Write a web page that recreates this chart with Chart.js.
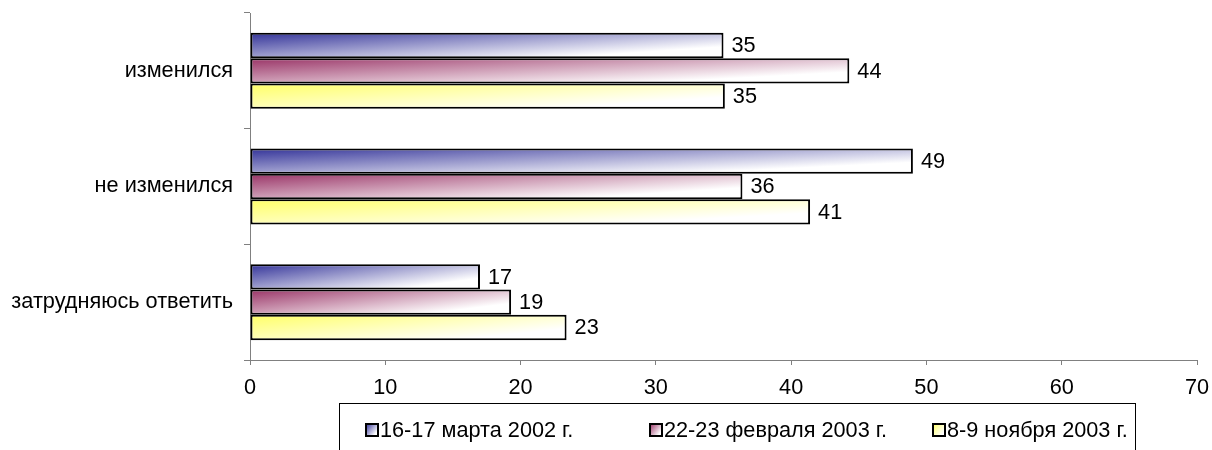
<!DOCTYPE html>
<html>
<head>
<meta charset="utf-8">
<script src="https://cdn.jsdelivr.net/npm/chart.js@4/dist/chart.umd.min.js"></script>
<style>
  html, body { margin: 0; padding: 0; background: #fff; }
  #wrap { width: 1212px; height: 450px; }
</style>
</head>
<body>
<div id="wrap"><canvas id="c" width="1212" height="450"></canvas></div>
<script>
// ---- data ----
const categories = ['изменился', 'не изменился', 'затрудняюсь ответить'];
const seriesNames = ['16-17 марта 2002 г.', '22-23 февраля 2003 г.', '8-9 ноября 2003 г.'];
const march2002 = [35.0, 49.0, 17.0];
const feb2003 = [44.3, 36.4, 19.3];
const nov2003 = [35.1, 41.4, 23.4];
const xMin = 0;
const xMax = 70;
const xStep = 10;

// ---- styles ----
const seriesColors = ['#333399', '#993366', '#ffff66'];
const FONT = '"Liberation Sans", Arial, sans-serif';
const FSIZE = 21.7;
const AXIS_COLOR = '#808080';

function makeGrad(ctx, left, top, W, H, color) {
  const a = 0.7, b = 0.55;
  const nx = a / Math.max(W, 1), ny = b / Math.max(H, 1);
  const n2 = nx * nx + ny * ny;
  const g = ctx.createLinearGradient(left, top, left + nx / n2, top + ny / n2);
  g.addColorStop(0, color);
  g.addColorStop(1, '#ffffff');
  return g;
}

const gradientPlugin = {
  id: 'gradientPlugin',
  beforeDatasetsDraw(chart) {
    const ctx = chart.ctx;
    chart.data.datasets.forEach((ds, i) => {
      const meta = chart.getDatasetMeta(i);
      meta.data.forEach(el => {
        const p = el.getProps(['x', 'y', 'base', 'height'], true);
        const left = Math.min(p.x, p.base);
        const W = Math.abs(p.x - p.base);
        const top = p.y - p.height / 2;
        el.options.backgroundColor = makeGrad(ctx, left, top, W, p.height, seriesColors[i]);
      });
    });
  }
};

const labelPlugin = {
  id: 'labelPlugin',
  afterDatasetsDraw(chart) {
    const ctx = chart.ctx;
    ctx.save();
    ctx.font = FSIZE + 'px ' + FONT;
    ctx.fillStyle = '#000';
    ctx.textAlign = 'left';
    ctx.textBaseline = 'middle';
    chart.data.datasets.forEach((ds, i) => {
      const meta = chart.getDatasetMeta(i);
      meta.data.forEach((el, j) => {
        const p = el.getProps(['x', 'y'], true);
        ctx.fillText(String(Math.round(ds.data[j])), p.x + 8, p.y + 1);
      });
    });
    ctx.restore();
  }
};

const legendPlugin = {
  id: 'legendPlugin',
  afterDraw(chart) {
    const ctx = chart.ctx;
    ctx.save();
    ctx.strokeStyle = '#000';
    ctx.lineWidth = 1;
    ctx.strokeRect(339.5, 403.5, 796, 100);
    const xs = [366, 650, 933];
    ctx.font = FSIZE + 'px ' + FONT;
    ctx.textBaseline = 'middle';
    ctx.textAlign = 'left';
    chart.data.datasets.forEach((ds, i) => {
      const x = xs[i], y = 424;
      ctx.fillStyle = makeGrad(ctx, x, y, 12, 12, seriesColors[i]);
      ctx.fillRect(x, y, 12, 12);
      ctx.strokeStyle = '#000';
      ctx.lineWidth = 2;
      ctx.strokeRect(x, y, 12, 12);
      ctx.fillStyle = '#000';
      ctx.fillText(ds.label, x + 14, y + 7);
    });
    ctx.restore();
  }
};

new Chart(document.getElementById('c'), {
  type: 'bar',
  data: {
    labels: categories,
    datasets: [
      { label: seriesNames[0], data: march2002 },
      { label: seriesNames[1], data: feb2003 },
      { label: seriesNames[2], data: nov2003 }
    ].map((d, i) => Object.assign(d, {
      backgroundColor: (c) => seriesColors[c.datasetIndex],
      borderColor: '#000',
      borderWidth: 2,
      borderSkipped: false,
      categoryPercentage: 0.657,
      barPercentage: 1.0
    }))
  },
  options: {
    indexAxis: 'y',
    responsive: false,
    animation: false,
    layout: { padding: { left: 0, right: 15, top: 13, bottom: 45 } },
    plugins: {
      legend: { display: false },
      tooltip: { enabled: false }
    },
    scales: {
      x: {
        min: xMin, max: xMax,
        afterFit(scale) { scale.height = 45; scale.paddingLeft = 0; scale.paddingRight = 0; },
        ticks: { stepSize: xStep, color: '#000', font: { family: FONT, size: FSIZE }, padding: 10, maxRotation: 0 },
        grid: { drawOnChartArea: false, tickLength: 5, color: AXIS_COLOR },
        border: { color: AXIS_COLOR, width: 1 }
      },
      y: {
        afterFit(scale) { scale.width = 250; scale.paddingTop = 0; scale.paddingBottom = 0; },
        ticks: { color: '#000', font: { family: FONT, size: FSIZE }, padding: 11 },
        grid: { drawOnChartArea: false, tickLength: 6, color: AXIS_COLOR, offset: true },
        border: { color: AXIS_COLOR, width: 1 }
      }
    }
  },
  plugins: [gradientPlugin, labelPlugin, legendPlugin]
});
</script>
</body>
</html>
